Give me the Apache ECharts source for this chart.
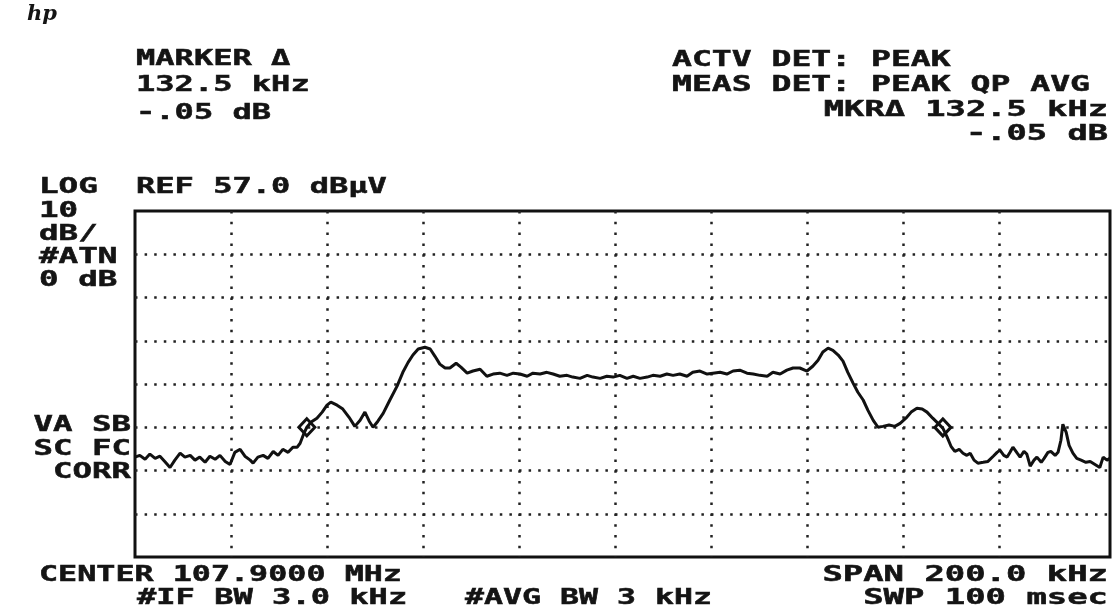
<!DOCTYPE html>
<html>
<head>
<meta charset="utf-8">
<script src="https://cdn.jsdelivr.net/npm/echarts@6/dist/echarts.min.js"></script>
<style>
html, body { margin: 0; padding: 0; background: #fff; }
#chart { width: 1113px; height: 613px; }
</style>
</head>
<body>
<div id="chart"></div>
<script>
// trace: offset from center (kHz) and level (dBuV)
const REF_LEVEL = 57.0;
const freqKHz = [
    -100.0, -99.0, -97.9, -96.9, -95.8, -94.8, -93.8, -92.7, -91.7, -90.6,
    -89.6, -88.5, -87.5, -86.5, -85.4, -84.4, -83.3, -82.3, -81.2, -80.2,
    -79.2, -78.1, -77.1, -76.0, -75.4, -74.4, -73.3, -72.3, -71.2, -70.2,
    -69.2, -68.1, -67.1, -66.2, -65.6, -64.8, -64.2, -63.3, -62.1, -61.0,
    -60.0, -59.2, -57.9, -56.7, -55.4, -54.2, -53.1, -52.1, -51.2, -50.4,
    -49.4, -48.3, -46.9, -45.4, -44.2, -43.1, -42.1, -41.0, -39.6, -38.5,
    -37.5, -36.5, -35.4, -34.4, -33.1, -32.1, -30.8, -29.6, -28.1, -26.7,
    -25.4, -24.0, -22.5, -21.2, -19.8, -18.3, -17.1, -15.6, -14.2, -12.9,
    -11.5, -10.0, -8.8, -7.3, -5.8, -4.6, -3.1, -1.7, -0.4, 1.0,
    2.5, 3.8, 5.2, 6.7, 7.9, 9.4, 10.8, 12.1, 13.5, 15.0,
    16.2, 17.7, 19.2, 20.4, 21.9, 23.3, 24.6, 26.0, 27.5, 28.8,
    30.2, 31.7, 32.9, 34.4, 35.8, 37.1, 38.5, 40.0, 41.2, 42.3,
    43.3, 44.4, 45.4, 46.5, 47.5, 48.5, 49.6, 50.6, 51.7, 52.7,
    53.8, 54.8, 55.8, 57.1, 58.3, 59.4, 60.6, 61.7, 62.9, 64.0,
    65.0, 66.2, 67.3, 68.3, 69.2, 70.0, 70.8, 71.7, 72.5, 73.3,
    74.0, 74.8, 75.6, 76.7, 77.7, 78.8, 79.6, 80.2, 81.0, 81.7,
    82.3, 82.9, 83.8, 84.4, 85.2, 85.8, 86.5, 87.3, 87.9, 88.8,
    89.4, 90.2, 90.8, 91.7, 92.3, 92.9, 93.3, 94.0, 94.6, 95.4,
    96.2, 97.1, 98.1, 99.0, 100.0, 101.0, 101.7, 102.5, 103.1
];
const levelDbuv = [
    0.1, 0.5, -0.4, 0.8, -0.2, 0.3, -0.9, -2.3, -0.6, 1.0,
    0.1, 0.5, -0.6, 0.1, -1.1, 0.3, -0.4, 0.5, -0.9, -1.6,
    1.2, 1.9, 0.3, -0.6, -1.3, 0.1, 0.5, -0.2, 1.4, 0.5,
    1.9, 1.2, 2.4, 2.4, 3.3, 5.6, 7.0, 8.2, 9.1, 10.5,
    12.1, 12.8, 12.1, 11.2, 9.3, 7.2, 8.6, 10.5, 8.4, 7.0,
    8.4, 10.2, 13.3, 16.5, 19.7, 22.0, 23.7, 25.1, 25.5, 25.1,
    23.4, 21.6, 20.7, 20.7, 21.8, 20.9, 19.5, 20.0, 20.4, 18.8,
    19.3, 19.5, 19.0, 19.5, 19.3, 18.8, 19.5, 19.3, 19.7, 19.3,
    18.8, 19.0, 18.6, 18.3, 19.0, 18.6, 18.3, 18.8, 18.6, 19.0,
    18.3, 18.8, 18.3, 18.6, 19.0, 18.8, 19.3, 19.0, 19.3, 18.8,
    19.7, 20.0, 19.3, 19.5, 19.7, 19.3, 20.0, 20.2, 19.5, 19.3,
    19.0, 18.8, 19.7, 19.3, 20.2, 20.7, 20.7, 20.0, 21.1, 22.5,
    24.4, 25.3, 24.8, 23.7, 22.3, 19.7, 17.2, 15.1, 13.3, 10.9,
    8.6, 7.0, 7.2, 7.5, 7.2, 7.9, 9.1, 10.5, 11.4, 11.2,
    10.5, 9.1, 7.9, 6.8, 4.7, 2.6, 1.4, 1.9, 1.0, 0.5,
    1.0, -0.6, -1.3, -1.1, -0.9, 0.3, 1.2, 1.7, 0.5, 0.1,
    1.2, 2.4, 1.0, 0.1, 1.4, 0.8, -2.0, -0.6, 0.1, -1.1,
    -0.2, 1.2, 1.4, 0.5, 1.2, 4.0, 7.7, 5.8, 2.8, 1.0,
    -0.2, -0.6, -1.1, -0.9, -1.6, -2.3, 0.1, -0.6, -0.2
];
// marker and delta marker
const markerFreqKHz = [-64.2, 68.3];
const markerLevelDbuv = [7.0, 6.95];

// printout annotations
const headLeft = ['MARKER \u0394', '132.5 kHz', '-.05 dB'];
const headRight = ['ACTV DET: PEAK', 'MEAS DET: PEAK QP AVG'];
const headRightR = ['MKR\u0394 132.5 kHz', '-.05 dB'];
const sideTop = ['LOG', '10', 'dB/', '#ATN', '0 dB'];
const sideBottom = ['VA SB', 'SC FC', 'CORR'];
const refText = 'REF 57.0 dB\u03bcV';
const footLeft = ['CENTER 107.9000 MHz', '#IF BW 3.0 kHz', '#AVG BW 3 kHz'];
const footRight = ['SPAN 200.0 kHz', 'SWP 100 msec'];

let myChart = echarts.init(document.getElementById('chart'));

const FONT_SIZE = 21;
// printer cell width in px -> horizontal stretch of the mono font
function txt(s, x, y, align, cell) {
    return {
        type: 'text', x: x, y: y, scaleX: (cell || 19.3) / (FONT_SIZE * 0.602), silent: true, z: 10,
        style: {
            text: s, fill: '#141414', stroke: '#141414', lineWidth: 0.5,
            fontFamily: 'DejaVu Sans Mono', fontWeight: 'bold',
            fontSize: FONT_SIZE, align: align || 'left', verticalAlign: 'middle'
        }
    };
}

let graphics = [];
graphics.push({
    type: 'text', x: 27, y: 15, silent: true,
    style: {text: 'hp', fill: '#141414', fontFamily: 'DejaVu Serif', fontStyle: 'italic',
        fontWeight: 'bold', fontSize: 21, verticalAlign: 'middle'}
});
headLeft.forEach(function (s, i) { graphics.push(txt(s, 136, [60, 86, 114][i])); });
headRight.forEach(function (s, i) { graphics.push(txt(s, 672, [61, 86][i], 'left', 19.9)); });
headRightR.forEach(function (s, i) { graphics.push(txt(s, 1108, [111, 135][i], 'right', 20.3)); });
sideTop.forEach(function (s, i) { graphics.push(txt(s, 39, 188 + i * 23.2, 'left', 19.6)); });
graphics.push(txt(refText, 136, 188));
sideBottom.forEach(function (s, i) { graphics.push(txt(s, 131, 426 + i * 23.3, 'right', 19.5)); });
graphics.push(txt(footLeft[0], 39, 576, 'left', 19.1));
graphics.push(txt(footLeft[1], 137, 599, 'left', 19.3));
graphics.push(txt(footLeft[2], 465, 599, 'left', 19.0));
graphics.push(txt(footRight[0], 1108, 576, 'right', 20.4));
graphics.push(txt(footRight[1], 1108, 599, 'right', 20.4));

const traceData = freqKHz.map(function (f, i) { return [f, levelDbuv[i] - REF_LEVEL]; });
const markerData = markerFreqKHz.map(function (f, i) { return [f, markerLevelDbuv[i] - REF_LEVEL]; });

// the 100 kHz line falls just inside the right frame on the printout, hide it
const xLineColors = ['#222', '#222', '#222', '#222', '#222', '#222', '#222', '#222', '#222', 'rgba(0,0,0,0)'];

myChart.setOption({
    backgroundColor: '#ffffff',
    animation: false,
    grid: {
        left: 135, right: 3, top: 211, bottom: 56,
        show: true, borderColor: '#111', borderWidth: 3, backgroundColor: 'transparent'
    },
    xAxis: {
        type: 'value', min: -100, max: 103.125, interval: 20,
        axisLine: {show: false}, axisTick: {show: false}, axisLabel: {show: false},
        splitLine: {
            show: true, showMinLine: false, showMaxLine: false,
            lineStyle: {color: xLineColors, width: 2.5, type: [2.5, 8.3]}
        }
    },
    yAxis: {
        type: 'value', min: -80, max: 0, interval: 10,
        axisLine: {show: false}, axisTick: {show: false}, axisLabel: {show: false},
        splitLine: {
            show: true, showMinLine: false, showMaxLine: false,
            lineStyle: {color: '#222', width: 2.5, type: [2.5, 7.1]}
        }
    },
    series: [
        {
            name: 'trace', type: 'line', data: traceData, showSymbol: false,
            lineStyle: {color: '#111', width: 3}, z: 3
        },
        {
            name: 'markers', type: 'scatter', data: markerData, symbol: 'diamond', symbolSize: [16, 17],
            itemStyle: {color: 'rgba(0,0,0,0)', borderColor: '#111', borderWidth: 3, opacity: 1}, z: 4
        }
    ],
    graphic: graphics
});
window.onresize = function () {
    myChart.resize();
};
</script>
</body>
</html>
